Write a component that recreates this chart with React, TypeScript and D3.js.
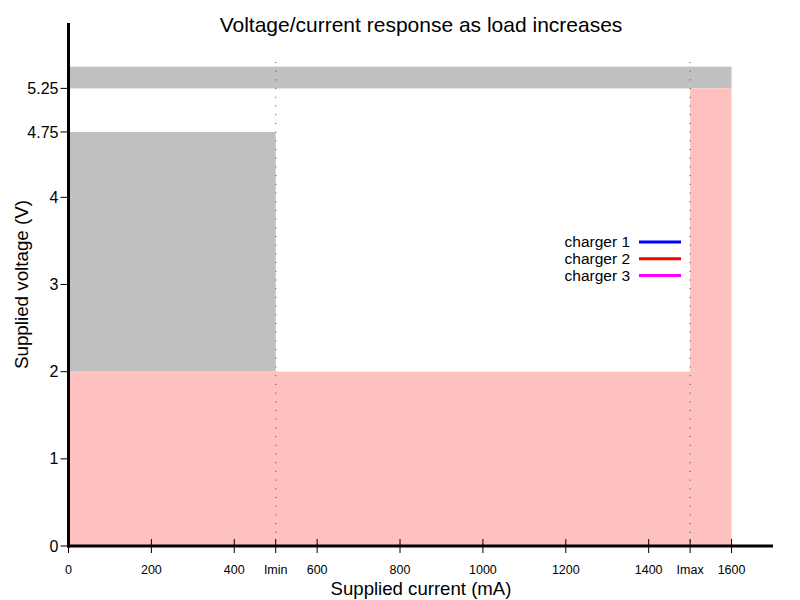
import * as d3 from 'd3';
import React from 'react';

// chart values
const xTicks = [0, 200, 400, 600, 800, 1000, 1200, 1400, 1600];
const yTicks = [0, 1, 2, 3, 4, 4.75, 5.25];
const limitNames = ['Imin', 'Imax'];
const limitValues = [500, 1500];

// shaded regions: [x0, x1, y0, y1]
const grayRegions = [
  [0, 1600, 5.25, 5.5],
  [0, 500, 2, 4.75],
];
const pinkRegions = [
  [0, 1500, 0, 2],
  [1500, 1600, 0, 5.25],
];

const seriesNames = ['charger 1', 'charger 2', 'charger 3'];
const seriesColors = ['#0000ff', '#ff0000', '#ff00ff'];

const width = 800;
const height = 600;
const font = 'Liberation Sans, Arial, sans-serif';

const App: React.FC = () => {
  const x = d3.scaleLinear().domain([0, 1700]).range([68.5, 773]);
  const y = d3.scaleLinear().domain([0, 6]).range([546, 23]);

  const rect = (r: number[], fill: string, i: number) => (
    <rect
      key={fill + i}
      x={x(r[0])}
      y={y(r[3])}
      width={x(r[1]) - x(r[0])}
      height={y(r[2]) - y(r[3])}
      fill={fill}
    />
  );

  const allX = [
    ...xTicks.map(v => ({ v, label: String(v) })),
    ...limitValues.map((v, i) => ({ v, label: limitNames[i] })),
  ];

  return (
    <svg
      width={width}
      height={height}
      style={{ position: 'absolute', left: 0, top: 0, background: '#fff' }}
      fontFamily={font}
    >
      {grayRegions.map((r, i) => rect(r, '#c0c0c0', i))}
      {pinkRegions.map((r, i) => rect(r, '#ffc0c0', i))}

      {/* limit markers */}
      {limitValues.map(v => (
        <line
          key={'lim' + v}
          x1={x(v)}
          x2={x(v)}
          y1={62}
          y2={y(0)}
          stroke="#444"
          strokeWidth={1}
          strokeDasharray="1,7.7"
        />
      ))}

      {/* axes */}
      <line x1={x(0)} x2={x(0)} y1={y(6)} y2={y(0) + 1.5} stroke="#000" strokeWidth={3} />
      <line x1={x(0) - 1.5} x2={x(1700)} y1={y(0)} y2={y(0)} stroke="#000" strokeWidth={3} />

      {yTicks.map(v => (
        <g key={'y' + v}>
          <line x1={x(0) - 8} x2={x(0)} y1={y(v)} y2={y(v)} stroke="#000" strokeWidth={1} />
          <text x={x(0) - 10} y={y(v)} dy="0.35em" textAnchor="end" fontSize={16} fill="#000">
            {String(v)}
          </text>
        </g>
      ))}

      {allX.map(t => (
        <g key={'x' + t.label}>
          <line x1={x(t.v)} x2={x(t.v)} y1={y(0) - 7} y2={y(0) + 7} stroke="#000" strokeWidth={1} />
          <text x={x(t.v)} y={574} textAnchor="middle" fontSize={12.5} fill="#000">
            {t.label}
          </text>
        </g>
      ))}

      {/* titles */}
      <text x={421} y={32} textAnchor="middle" fontSize={21} fill="#000">
        Voltage/current response as load increases
      </text>
      <text x={421} y={595} textAnchor="middle" fontSize={18.6} fill="#000">
        Supplied current (mA)
      </text>
      <text
        transform={`translate(28,${(y(0) + y(6)) / 2}) rotate(-90)`}
        textAnchor="middle"
        fontSize={18.8}
        fill="#000"
      >
        Supplied voltage (V)
      </text>

      {/* legend */}
      {seriesNames.map((name, i) => (
        <g key={name} transform={`translate(0,${242 + i * 16.8})`}>
          <text x={630} y={0} dy="0.35em" textAnchor="end" fontSize={15.5} fill="#000">
            {name}
          </text>
          <line x1={639} x2={681} y1={0} y2={0} stroke={seriesColors[i]} strokeWidth={3} />
        </g>
      ))}
    </svg>
  );
};

export default App;
